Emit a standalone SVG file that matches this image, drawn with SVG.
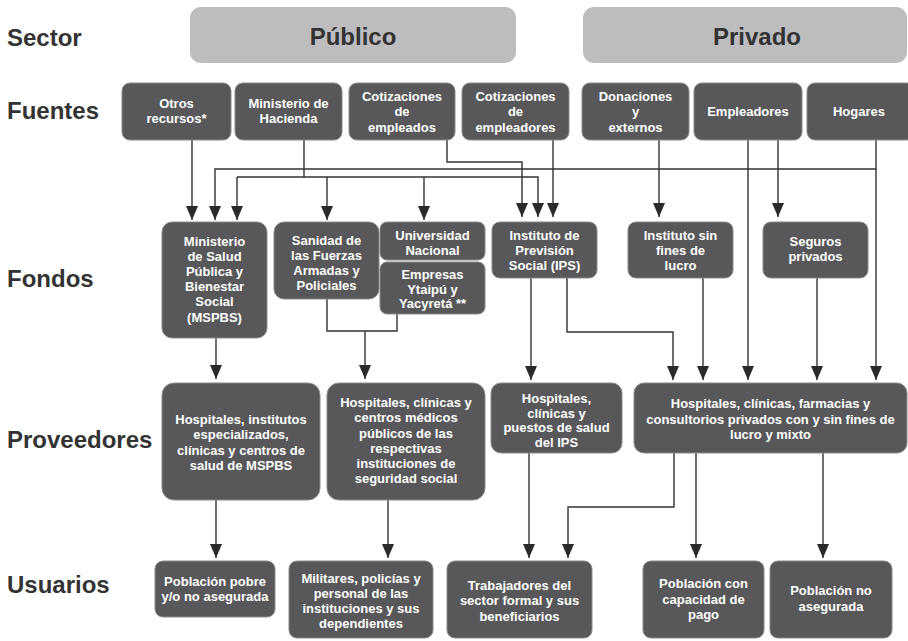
<svg xmlns="http://www.w3.org/2000/svg" width="908" height="641" viewBox="0 0 908 641">
<defs>
<style>
.lbl{font-family:"Liberation Sans",Arial,sans-serif;font-weight:bold;font-size:24px;fill:#333333}
.hdr{fill:#bdbdbf;stroke:none}
.box{fill:#58585a;stroke:#8a8a8a;stroke-width:1}
.t{font-family:"Liberation Sans",Arial,sans-serif;font-weight:bold;font-size:13px;fill:#ffffff;text-anchor:middle}
.c{fill:none;stroke:#333333;stroke-width:1.4}
</style>
<marker id="ah" viewBox="0 0 14 12" refX="14" refY="6" markerWidth="14" markerHeight="12" markerUnits="userSpaceOnUse" orient="auto">
<path d="M0,0 L14,6 L0,12 z" fill="#2a2a2a"/>
</marker>
</defs>
<rect width="908" height="641" fill="#ffffff"/>

<g id="row-labels">
<text class="lbl" x="7" y="46">Sector</text>
<text class="lbl" x="7" y="119">Fuentes</text>
<text class="lbl" x="7" y="287">Fondos</text>
<text class="lbl" x="7" y="448">Proveedores</text>
<text class="lbl" x="7" y="593">Usuarios</text>
</g>

<g id="sector-publico">
<rect class="hdr" x="190" y="7" width="326" height="56" rx="11"/>
<text class="lbl" x="353" y="45" text-anchor="middle">Público</text>
</g>
<g id="sector-privado">
<rect class="hdr" x="583" y="7" width="324" height="56" rx="11"/>
<text class="lbl" x="757" y="45" text-anchor="middle">Privado</text>
</g>

<g id="connectors">
<path class="c" d="M192,140 V220" marker-end="url(#ah)"/>
<path class="c" d="M876,140 V169 H215 V220" marker-end="url(#ah)"/>
<path class="c" d="M304,140 V177"/>
<path class="c" d="M237,177 H538 V217" marker-end="url(#ah)"/>
<path class="c" d="M237,177 V220" marker-end="url(#ah)"/>
<path class="c" d="M327,177 V220" marker-end="url(#ah)"/>
<path class="c" d="M424,177 V220" marker-end="url(#ah)"/>
<path class="c" d="M447,140 V162 H522 V217" marker-end="url(#ah)"/>
<path class="c" d="M553,140 V217" marker-end="url(#ah)"/>
<path class="c" d="M659,140 V217" marker-end="url(#ah)"/>
<path class="c" d="M778,140 V217" marker-end="url(#ah)"/>
<path class="c" d="M748,140 V380" marker-end="url(#ah)"/>
<path class="c" d="M876,169 V380" marker-end="url(#ah)"/>
<path class="c" d="M216,338 V379" marker-end="url(#ah)"/>
<path class="c" d="M327,299 V331 H397 V314"/>
<path class="c" d="M365,331 V379" marker-end="url(#ah)"/>
<path class="c" d="M531,278 V380" marker-end="url(#ah)"/>
<path class="c" d="M567,278 V332 H673 V380" marker-end="url(#ah)"/>
<path class="c" d="M703,278 V380" marker-end="url(#ah)"/>
<path class="c" d="M817,278 V380" marker-end="url(#ah)"/>
<path class="c" d="M216,500 V558" marker-end="url(#ah)"/>
<path class="c" d="M388,500 V558" marker-end="url(#ah)"/>
<path class="c" d="M529,453 V558" marker-end="url(#ah)"/>
<path class="c" d="M674,453 V507 H568 V558" marker-end="url(#ah)"/>
<path class="c" d="M696,453 V558" marker-end="url(#ah)"/>
<path class="c" d="M823,453 V558" marker-end="url(#ah)"/>
</g>

<g id="f-otros">
<rect class="box" x="122" y="83" width="109" height="57" rx="8"/>
<text class="t" x="176.5" y="108">Otros</text>
<text class="t" x="176.5" y="123">recursos*</text>
</g>
<g id="f-hacienda">
<rect class="box" x="235" y="83" width="107" height="57" rx="8"/>
<text class="t" x="288.5" y="108">Ministerio de</text>
<text class="t" x="288.5" y="123">Hacienda</text>
</g>
<g id="f-cot-empleados">
<rect class="box" x="349" y="83" width="106" height="57" rx="8"/>
<text class="t" x="402" y="100.5">Cotizaciones</text>
<text class="t" x="402" y="116">de</text>
<text class="t" x="402" y="131.5">empleados</text>
</g>
<g id="f-cot-empleadores">
<rect class="box" x="462" y="83" width="107" height="57" rx="8"/>
<text class="t" x="515.5" y="100.5">Cotizaciones</text>
<text class="t" x="515.5" y="116">de</text>
<text class="t" x="515.5" y="131.5">empleadores</text>
</g>
<g id="f-donaciones">
<rect class="box" x="582" y="83" width="107" height="57" rx="8"/>
<text class="t" x="635.5" y="100.5">Donaciones</text>
<text class="t" x="635.5" y="116">y</text>
<text class="t" x="635.5" y="131.5">externos</text>
</g>
<g id="f-empleadores">
<rect class="box" x="694" y="83" width="108" height="57" rx="8"/>
<text class="t" x="748" y="115.5">Empleadores</text>
</g>
<g id="f-hogares">
<rect class="box" x="807" y="83" width="108" height="57" rx="8"/>
<text class="t" x="859" y="115.5">Hogares</text>
</g>

<g id="fo-mspbs">
<rect class="box" x="162" y="222" width="105" height="116" rx="10"/>
<text class="t" x="214.5" y="245.5">Ministerio</text>
<text class="t" x="214.5" y="260.7">de Salud</text>
<text class="t" x="214.5" y="275.9">Pública y</text>
<text class="t" x="214.5" y="291.1">Bienestar</text>
<text class="t" x="214.5" y="306.3">Social</text>
<text class="t" x="214.5" y="321.5">(MSPBS)</text>
</g>
<g id="fo-sanidad">
<rect class="box" x="274" y="222" width="105" height="77" rx="10"/>
<text class="t" x="326.5" y="244.5">Sanidad de</text>
<text class="t" x="326.5" y="259.5">las Fuerzas</text>
<text class="t" x="326.5" y="274.5">Armadas y</text>
<text class="t" x="326.5" y="289.5">Policiales</text>
</g>
<g id="fo-universidad">
<rect class="box" x="380" y="222" width="105" height="38" rx="7"/>
<text class="t" x="432.5" y="239.5">Universidad</text>
<text class="t" x="432.5" y="254.5">Nacional</text>
</g>
<g id="fo-empresas">
<rect class="box" x="380" y="262" width="105" height="52" rx="7"/>
<text class="t" x="432.5" y="278.5">Empresas</text>
<text class="t" x="432.5" y="293.5">Ytaipú y</text>
<text class="t" x="432.5" y="308">Yacyretá **</text>
</g>
<g id="fo-ips">
<rect class="box" x="492" y="222" width="105" height="56" rx="8"/>
<text class="t" x="544.5" y="239.5">Instituto de</text>
<text class="t" x="544.5" y="254.5">Previsión</text>
<text class="t" x="544.5" y="269.5">Social (IPS)</text>
</g>
<g id="fo-sinfines">
<rect class="box" x="628" y="222" width="105" height="56" rx="8"/>
<text class="t" x="680.5" y="239.5">Instituto sin</text>
<text class="t" x="680.5" y="254.5">fines de</text>
<text class="t" x="680.5" y="269.5">lucro</text>
</g>
<g id="fo-seguros">
<rect class="box" x="763" y="222" width="105" height="56" rx="8"/>
<text class="t" x="815.5" y="245.5">Seguros</text>
<text class="t" x="815.5" y="261">privados</text>
</g>

<g id="p-mspbs">
<rect class="box" x="162" y="383" width="158" height="117" rx="12"/>
<text class="t" x="241" y="423.8">Hospitales, institutos</text>
<text class="t" x="241" y="439.3">especializados,</text>
<text class="t" x="241" y="454.8">clínicas y centros de</text>
<text class="t" x="241" y="470.3">salud de MSPBS</text>
</g>
<g id="p-seguridad">
<rect class="box" x="327" y="383" width="158" height="117" rx="12"/>
<text class="t" x="406" y="407.2">Hospitales, clínicas y</text>
<text class="t" x="406" y="422.4">centros médicos</text>
<text class="t" x="406" y="437.6">públicos de las</text>
<text class="t" x="406" y="452.8">respectivas</text>
<text class="t" x="406" y="468">instituciones de</text>
<text class="t" x="406" y="483.2">seguridad social</text>
</g>
<g id="p-ips">
<rect class="box" x="491" y="383" width="131" height="70" rx="10"/>
<text class="t" x="556.5" y="402.8">Hospitales,</text>
<text class="t" x="556.5" y="417.5">clínicas y</text>
<text class="t" x="556.5" y="432.2">puestos de salud</text>
<text class="t" x="556.5" y="446.9">del IPS</text>
</g>
<g id="p-privados">
<rect class="box" x="634" y="383" width="273" height="70" rx="10"/>
<text class="t" x="770.5" y="408">Hospitales, clínicas, farmacias y</text>
<text class="t" x="770.5" y="423.5">consultorios privados con y sin fines de</text>
<text class="t" x="770.5" y="439">lucro y mixto</text>
</g>

<g id="u-pobre">
<rect class="box" x="155" y="561" width="120" height="56" rx="8"/>
<text class="t" x="215" y="586.2">Población pobre</text>
<text class="t" x="215" y="601.2">y/o no asegurada</text>
</g>
<g id="u-militares">
<rect class="box" x="289" y="561" width="144" height="77" rx="8"/>
<text class="t" x="361" y="582.8">Militares, policías y</text>
<text class="t" x="361" y="598">personal de las</text>
<text class="t" x="361" y="613.2">instituciones y sus</text>
<text class="t" x="361" y="628.4">dependientes</text>
</g>
<g id="u-trabajadores">
<rect class="box" x="447" y="561" width="145" height="77" rx="8"/>
<text class="t" x="519.5" y="589.5">Trabajadores del</text>
<text class="t" x="519.5" y="605">sector formal y sus</text>
<text class="t" x="519.5" y="620.5">beneficiarios</text>
</g>
<g id="u-capacidad">
<rect class="box" x="643" y="561" width="121" height="77" rx="8"/>
<text class="t" x="703.5" y="588">Población con</text>
<text class="t" x="703.5" y="603.7">capacidad de</text>
<text class="t" x="703.5" y="619.4">pago</text>
</g>
<g id="u-noasegurada">
<rect class="box" x="770" y="561" width="122" height="77" rx="8"/>
<text class="t" x="831" y="595.2">Población no</text>
<text class="t" x="831" y="611">asegurada</text>
</g>
</svg>
